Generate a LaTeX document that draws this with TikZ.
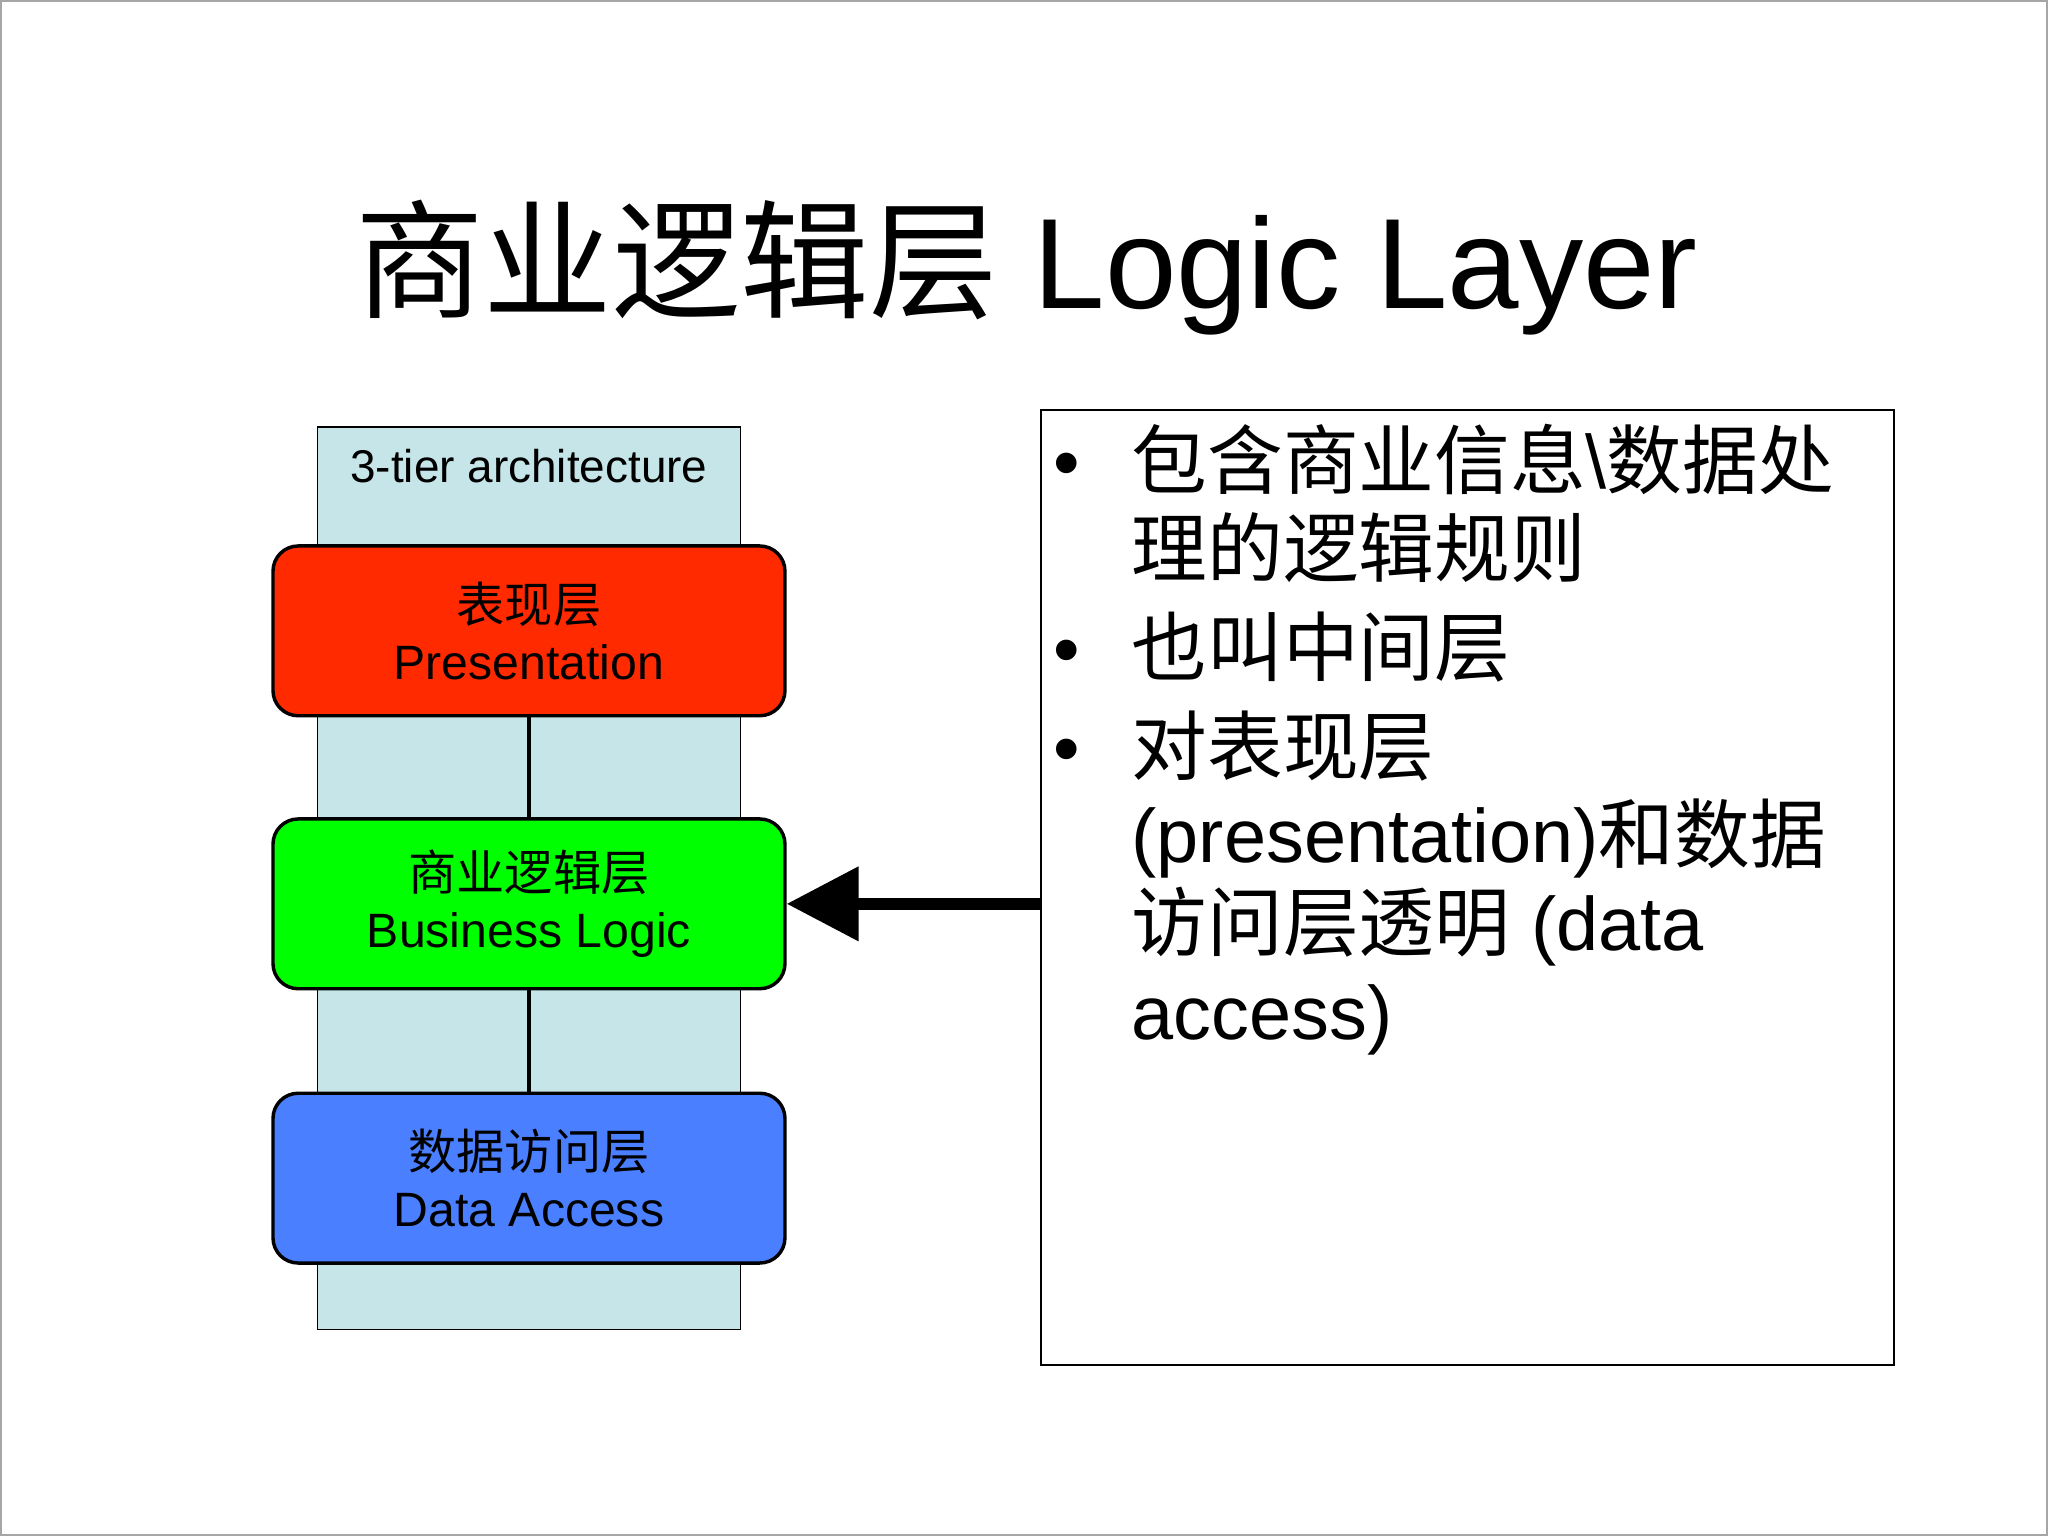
\documentclass[tikz,border=0pt]{standalone}
\usepackage{fontspec}
\setmainfont{Liberation Sans}
\newfontfamily\cjk{Noto Sans CJK SC}
\newcommand{\cj}[1]{{\cjk #1}}
\usetikzlibrary{arrows.meta}
\begin{document}
\begin{tikzpicture}[x=0.02cm,y=-0.02cm,
  tier/.style={draw=black,line width=1.5pt,rounded corners=11pt,minimum width=392*0.02cm,minimum height=130*0.02cm,align=center,font=\fontsize{21}{25}\selectfont},
  bl/.style={anchor=base west,inner sep=0pt,font=\fontsize{33}{38}\selectfont}]
\useasboundingbox (0,0) rectangle (1568,1176);
\draw[gray!70,line width=1pt] (0.5,0.5) rectangle (1567.5,1175.5);
\node (title) at (786,205) {\fontsize{56}{64}\selectfont\cj{商业逻辑层} Logic Layer};
\draw[fill={rgb,255:red,197;green,229;blue,232},line width=0.6pt] (243,327) rectangle (567,1018);
\node (cap) at (405,357) {\fontsize{20}{24}\selectfont 3-tier architecture};
\node[tier,fill={rgb,255:red,255;green,42;blue,0}] (p) at (405,483) {\cj{表现层}\\Presentation};
\node[tier,fill={rgb,255:red,0;green,255;blue,0}] (b) at (405,692) {\cj{商业逻辑层}\\Business Logic};
\node[tier,fill={rgb,255:red,74;green,128;blue,255}] (d) at (405,902) {\cj{数据访问层}\\Data Access};
\draw[line width=1.5pt] (p) -- (b);
\draw[line width=1.5pt] (b) -- (d);
\node[draw,line width=0.8pt,minimum width=653*0.02cm,minimum height=731*0.02cm,inner sep=0pt] (r) at (1123.5,679.5) {};
\draw[line width=5pt,-{Triangle[length=1.1cm,width=1.1cm]}] (r.west|-b.east) -- (b.east);
\node[bl] (u1) at (806,374) {•};
\node[bl] (u2) at (806,517) {•};
\node[bl] (u3) at (806,593) {•};
\node[bl] (l1) at (866,374) {\cj{包含商业信息}\textbackslash\cj{数据处}};
\node[bl] (l2) at (866,441) {\cj{理的逻辑规则}};
\node[bl] (l3) at (866,517) {\cj{也叫中间层}};
\node[bl] (l4) at (866,593) {\cj{对表现层}};
\node[bl] (l5) at (866,660) {(presentation)\cj{和数据}};
\node[bl] (l6) at (866,728) {\cj{访问层透明} (data};
\node[bl] (l7) at (866,796) {access)};
\end{tikzpicture}
\end{document}
